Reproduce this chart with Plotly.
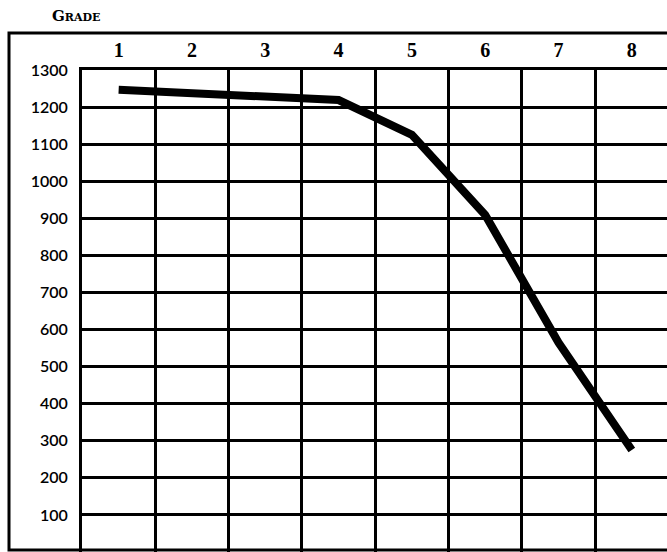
import plotly.graph_objects as go

# Grades across the top and the value read for each one
grades = [1, 2, 3, 4, 5, 6, 7, 8]
values = [1247, 1237, 1228, 1219, 1125, 909, 565, 275]

# Y axis ticks
y_ticks = [100, 200, 300, 400, 500, 600, 700, 800, 900, 1000, 1100, 1200, 1300]

W, H = 667, 552

fig = go.Figure()

fig.add_trace(
    go.Scatter(
        x=grades,
        y=values,
        mode="lines",
        line=dict(color="black", width=8),
        hoverinfo="skip",
        showlegend=False,
    )
)

fig.update_layout(
    width=W,
    height=H,
    margin=dict(l=0, r=0, t=0, b=0, autoexpand=False),
    paper_bgcolor="white",
    plot_bgcolor="white",
    showlegend=False,
    xaxis=dict(
        domain=[82 / W, 1],
        range=[0.5, 8.48],
        side="top",
        automargin=False,
        tickvals=grades,
        ticktext=[str(g) for g in grades],
        showgrid=False,
        zeroline=False,
        showline=True,
        linecolor="black",
        linewidth=3,
        ticks="",
        ticklabelstandoff=2,
        tickfont=dict(family="Liberation Serif", size=20, color="black", weight="bold"),
        minor=dict(tick0=0.5, dtick=1, showgrid=True, gridcolor="black", gridwidth=3),
    ),
    yaxis=dict(
        domain=[0, 1 - 70 / H],
        range=[0, 1300],
        automargin=False,
        tickvals=y_ticks,
        showgrid=True,
        gridcolor="black",
        gridwidth=3,
        zeroline=False,
        showline=True,
        linecolor="black",
        linewidth=3,
        ticks="",
        ticklabelstandoff=8,
        tickfont=dict(family="Lato", size=16, color="black", weight=600),
    ),
)

# outer frame of the figure
fig.add_shape(
    type="rect", xref="paper", yref="paper",
    x0=9 / W, x1=1.02, y0=1 - 550 / H, y1=1 - 33 / H,
    line=dict(color="black", width=3),
    layer="below",
)

fig.add_annotation(
    text="G<span style='font-size:11px'>RADE</span>",
    xref="paper", yref="paper",
    x=50 / W, y=1 - 16 / H,
    xanchor="left", yanchor="middle",
    showarrow=False,
    font=dict(family="DejaVu Serif", size=15, color="black", weight="bold"),
)

# pin the chart to the top-left corner of the page
fig.write_html(
    "out.html",
    config={"displayModeBar": False},
    post_script=(
        "document.body.style.margin='0';"
        "var d=document.getElementById('{plot_id}');"
        "d.style.position='absolute';d.style.left='0px';d.style.top='0px';"
    ),
)
